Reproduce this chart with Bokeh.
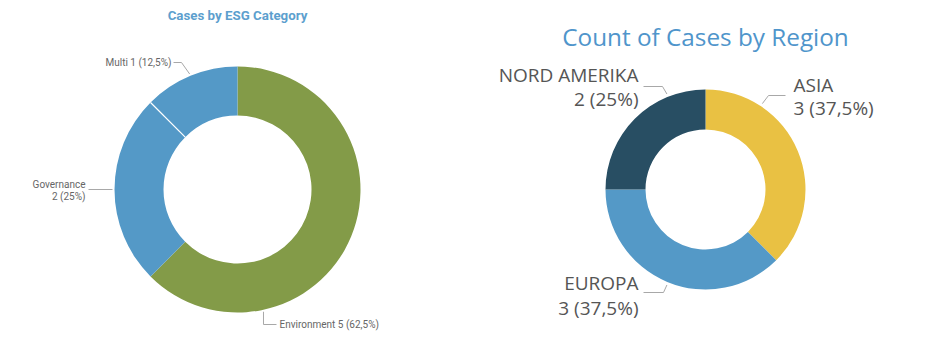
import math
from bokeh.plotting import figure
from bokeh.models import Range1d
from bokeh.core.properties import value
from bokeh.embed import file_html
from bokeh.resources import INLINE

# ---------------- data ----------------
esg_title = "Cases by ESG Category"
esg_categories = ["Environment", "Governance", "Multi"]
esg_counts = [5, 2, 1]
esg_colors = ["#839B48", "#5499C7", "#5499C7"]

region_title = "Count of Cases by Region"
regions = ["ASIA", "EUROPA", "NORD AMERIKA"]
region_counts = [3, 3, 2]
region_colors = ["#E9C143", "#5499C7", "#284E63"]

# ---------------- layout ----------------
W, H = 940, 354
p = figure(width=W, height=H, x_range=Range1d(0, W), y_range=Range1d(0, H),
           output_backend="svg", toolbar_location=None,
           x_axis_location=None, y_axis_location=None, min_border=0)
p.grid.visible = False
p.outline_line_color = None
p.background_fill_color = "white"
p.border_fill_color = "white"


def Y(y):
    return H - y


def fractions(counts):
    total = sum(counts)
    starts, ends, acc = [], [], 0
    for c in counts:
        starts.append(acc / total)
        acc += c
        ends.append(acc / total)
    return starts, ends


def pct_text(c, counts):
    pct = c / sum(counts) * 100
    return ("%g" % pct).replace(".", ",") + "%"


def pt(cx, cy, r, frac_deg):
    t = math.radians(frac_deg)
    return cx + r * math.sin(t), cy - r * math.cos(t)


def donut(cx, cy, r_in, r_out, counts, colors):
    s, e = fractions(counts)
    n = len(counts)
    p.annular_wedge(x=[cx] * n, y=[Y(cy)] * n, inner_radius=r_in, outer_radius=r_out,
                    start_angle=[math.pi / 2 - a * 2 * math.pi for a in s],
                    end_angle=[math.pi / 2 - b * 2 * math.pi for b in e],
                    direction="clock", fill_color=colors, line_color=None)
    # thin white separator between adjacent slices of the same colour
    for i in range(n):
        j = (i + 1) % n
        if colors[i] == colors[j]:
            x0, y0 = pt(cx, cy, r_in, e[i] * 360)
            x1, y1 = pt(cx, cy, r_out, e[i] * 360)
            p.line([x0, x1], [Y(y0), Y(y1)], line_color="white", line_width=1.2)
    return s, e


def leader(pts, color="#A8A8A8"):
    p.line([q[0] for q in pts], [Y(q[1]) for q in pts], line_color=color, line_width=1)


def label(x, y, txt, align, font, size, color, style="normal"):
    p.text(x=[x], y=[Y(y)], text=[txt], text_align=align, text_baseline="middle",
           text_font=value(font), text_font_size=size, text_color=color,
           text_font_style=style)


# ---------------- left donut ----------------
LCX, LCY, LRI, LRO = 237, 189, 74, 123
s, e = donut(LCX, LCY, LRI, LRO, esg_counts, esg_colors)
label(LCX, 15, esg_title, "center", "Roboto", "13.3px", "#5D9FCE", "bold")

lf, lsz, lcol = "Roboto", "10px", "#666666"
# Multi
i = 2
ax, ay = pt(LCX, LCY, LRO + 2, (s[i] + e[i]) / 2 * 360)
leader([(173, 62), (181, 62), (ax, ay)])
label(171, 62, f"{esg_categories[i]} {esg_counts[i]} ({pct_text(esg_counts[i], esg_counts)})",
      "right", lf, lsz, lcol)
# Governance
i = 1
ax, ay = pt(LCX, LCY, LRO + 2, (s[i] + e[i]) / 2 * 360)
leader([(88, ay), (ax, ay)])
label(85, 184, esg_categories[i], "right", lf, lsz, lcol)
label(85, 196, f"{esg_counts[i]} ({pct_text(esg_counts[i], esg_counts)})", "right", lf, lsz, lcol)
# Environment
i = 0
ax, ay = pt(LCX, LCY, LRO + 2, 168)
leader([(ax, ay), (ax, 324), (ax + 13, 324)])
label(279, 324, f"{esg_categories[i]} {esg_counts[i]} ({pct_text(esg_counts[i], esg_counts)})",
      "left", lf, lsz, lcol)

# ---------------- right donut ----------------
RCX, RCY, RRI, RRO = 705, 189, 60, 100
s, e = donut(RCX, RCY, RRI, RRO, region_counts, region_colors)
label(RCX, 36, region_title, "center", "Open Sans", "24.3px", "#4F95CB")

rf, rsz, rcol = "Open Sans", "19px", "#555555"
# ASIA
i = 0
ax, ay = pt(RCX, RCY, RRO + 3, 33.5)
leader([(785, 95), (768, 95), (ax, ay)])
label(793, 84, regions[i], "left", rf, rsz, rcol)
label(793, 107, f"{region_counts[i]} ({pct_text(region_counts[i], region_counts)})", "left", rf, rsz, rcol)
# EUROPA
i = 1
ax, ay = pt(RCX, RCY, RRO + 3, 202)
leader([(643, 292), (663, 292), (ax, ay)])
label(638, 282, regions[i], "right", rf, rsz, rcol)
label(638, 307, f"{region_counts[i]} ({pct_text(region_counts[i], region_counts)})", "right", rf, rsz, rcol)
# NORD AMERIKA
i = 2
ax, ay = pt(RCX, RCY, RRO + 3, 338)
leader([(643, 86), (662, 86), (ax, ay)])
label(638, 74, regions[i], "right", rf, rsz, rcol)
label(638, 98, f"{region_counts[i]} ({pct_text(region_counts[i], region_counts)})", "right", rf, rsz, rcol)

open("out.html", "w").write(file_html(p, INLINE))
